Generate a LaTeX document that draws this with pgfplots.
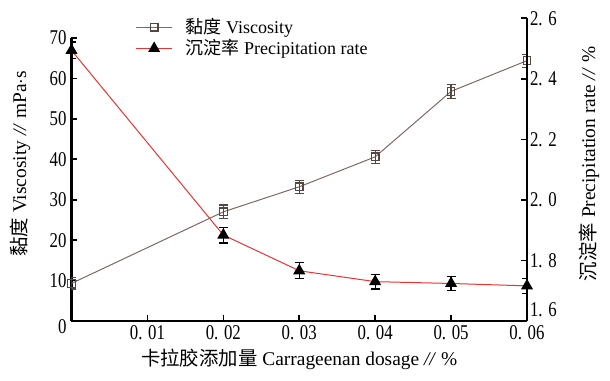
\documentclass[border=0pt]{standalone}
\usepackage{fontspec}
\setmainfont{Liberation Serif}
\newfontfamily\cjk{Noto Sans CJK SC}
\newfontfamily\tickfont{Liberation Serif}[FakeStretch=0.8]
\usepackage{pgfplots}
\pgfplotsset{compat=1.18}

\definecolor{viscline}{RGB}{125,105,100}
\definecolor{viscmark}{RGB}{85,70,65}
\definecolor{precred}{RGB}{235,50,50}

\newcommand{\unitsep}{\textit{//}}

\pgfplotsset{
  base/.style={
    scale only axis, width=227.75pt,
    at={(35.75pt,29.5pt)}, anchor=south west,
    xmin=0, xmax=0.06,
    tick align=inside, major tick length=3pt,
    every tick/.style={black, line width=0.8pt},
    axis line style={-, line width=1.2pt, black},
    tick label style={font=\fontsize{10.5}{12}\tickfont},
    label style={font=\fontsize{9.7}{11.6}\selectfont},
    scaled x ticks=false, scaled y ticks=false,
  },
  viscstyle/.style={viscline, line width=0.5pt, mark=square, mark size=1.9pt,
    mark options={draw=viscmark, fill=white, line width=0.6pt, solid}},
  precstyle/.style={precred, line width=0.5pt, mark=triangle*, mark size=3pt,
    mark options={draw=black, fill=black, solid}},
}

\begin{document}
\begin{tikzpicture}
\useasboundingbox (0,0) rectangle (305pt,190pt);

% Viscosity, left scale
\begin{axis}[base, height=141.5pt, ymin=0, ymax=70,
  axis x line*=bottom, axis y line*=left,
  xtick={0.01,0.02,0.03,0.04,0.05,0.06},
  xticklabels={0. 01,0. 02,0. 03,0. 04,0. 05,0. 06},
  ytick={10,20,30,40,50,60,70},
  yticklabels={10,20,30,40,50,60,70},
  extra y ticks={0}, extra y tick labels={0},
  extra y tick style={yticklabel style={yshift=-3pt}},
  xticklabel style={yshift=1.5pt}, yticklabel style={xshift=1pt},
  xlabel={{\cjk 卡拉胶添加量} Carrageenan dosage \unitsep\ \%},
  xlabel style={at={(axis description cs:0.5,-0.135)}, anchor=center},
  ylabel={{\cjk 黏度} Viscosity \unitsep\ mPa$\cdot$s},
  ylabel style={at={(axis description cs:-0.113,0.555)}, anchor=center},
]
\addplot[viscstyle,
  error bars/.cd, y dir=both, y explicit,
  error bar style={viscmark, line width=0.6pt},
  error mark options={rotate=90, mark size=2.25pt, viscmark, line width=0.6pt}]
  coordinates {
  (0,9.3)    +- (0,1.4)
  (0.02,27.0) +- (0,1.7)
  (0.03,33.2) +- (0,1.6)
  (0.04,40.6) +- (0,1.6)
  (0.05,56.8) +- (0,1.7)
  (0.06,64.4) +- (0,1.6)
};
\end{axis}

% Precipitation rate, right scale
\begin{axis}[base, height=151.35pt, ymin=1.6, ymax=2.6,
  axis x line=none, axis y line*=right,
  ytick={1.8,2.0,2.2,2.4,2.6},
  yticklabels={1. 8,2. 0,2. 2,2. 4,2. 6},
  extra y ticks={1.6}, extra y tick labels={1. 6},
  extra y tick style={yticklabel style={yshift=5.5pt}},
  yticklabel style={xshift=-2pt},
  ylabel={{\cjk 沉淀率} Precipitation rate \unitsep\ \%},
  ylabel style={at={(axis description cs:1.136,0.519)}, anchor=center},
  legend cell align=left,
  legend image code/.code={\draw[mark repeat=2, mark phase=2, #1]
    plot coordinates {(0pt,0pt) (9pt,0pt) (18pt,0pt)};},
  legend style={at={(axis description cs:0.14,1.015)}, anchor=north west,
    draw=none, fill=none, font=\fontsize{9}{10.5}\selectfont,
    row sep=-2.5pt, inner sep=0pt,
    /tikz/every odd column/.append style={column sep=4.5pt}},
]
\addlegendimage{viscstyle}
\addlegendentry{{\cjk 黏度} Viscosity}
\addplot[precstyle,
  error bars/.cd, y dir=both, y explicit,
  error bar style={black, line width=0.6pt},
  error mark options={rotate=90, mark size=2.25pt, black, line width=0.6pt}]
  coordinates {
  (0,2.494)   +- (0,0.028)
  (0.02,1.884) +- (0,0.026)
  (0.03,1.766) +- (0,0.026)
  (0.04,1.730) +- (0,0.024)
  (0.05,1.724) +- (0,0.024)
  (0.06,1.716) +- (0,0.024)
};
\addlegendentry{{\cjk 沉淀率} Precipitation rate}
\end{axis}
\end{tikzpicture}
\end{document}
